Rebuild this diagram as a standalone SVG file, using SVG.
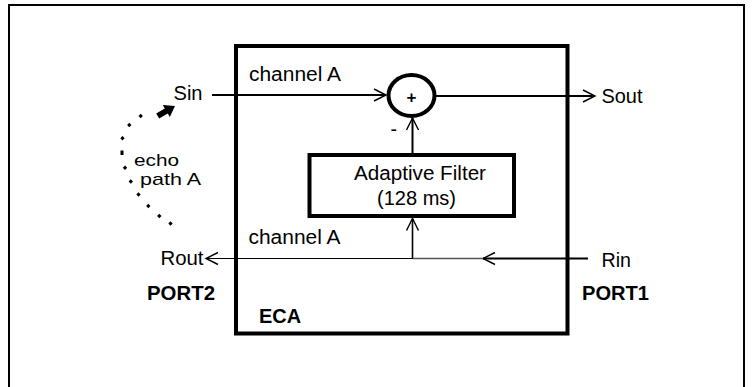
<svg xmlns="http://www.w3.org/2000/svg" width="754" height="387" viewBox="0 0 754 387">
<style>
text{font-family:"Liberation Sans",Arial,sans-serif;font-size:19.5px;fill:#000}
.b{font-weight:bold}
.box{fill:none;stroke:#000;stroke-width:4}
.ln{fill:none;stroke:#000;stroke-width:2}
.thin{fill:none;stroke:#000;stroke-width:1.2}
.echo{font-size:17px}
</style>
<defs>
<marker id="chev" markerUnits="userSpaceOnUse" markerWidth="16" markerHeight="16" viewBox="-14 -8 16 16" refX="0" refY="0" orient="auto">
<path d="M-12,-6 L0,0 L-12,6" fill="none" stroke="#000" stroke-width="1.4"/>
</marker>
<path id="dot" d="M0,-2.2 L2.2,0 L0,2.2 L-2.2,0Z" fill="#000"/>
</defs>
<rect x="9" y="5" width="735" height="400" fill="#fff" stroke="#000" stroke-width="2"/>
<g id="eca">
<rect class="box" x="236" y="46" width="331.5" height="287.5"/>
<text class="b" x="259" y="323" textLength="42" lengthAdjust="spacingAndGlyphs">ECA</text>
</g>
<g id="sum">
<ellipse cx="411.5" cy="95.5" rx="23" ry="20.5" fill="#fff" stroke="#000" stroke-width="4"/>
<text class="b" x="411.5" y="102.5" text-anchor="middle" style="font-size:17px">+</text>
</g>
<g id="filter">
<rect class="box" x="309.5" y="155" width="204.5" height="61"/>
<text x="420" y="180" text-anchor="middle" textLength="132" lengthAdjust="spacingAndGlyphs">Adaptive Filter</text>
<text x="416.5" y="204.5" text-anchor="middle" textLength="79" lengthAdjust="spacingAndGlyphs">(128 ms)</text>
</g>
<g id="connectors">
<line class="ln" x1="212" y1="95" x2="386" y2="95" marker-end="url(#chev)"/>
<line class="ln" x1="436" y1="96" x2="595" y2="96" marker-end="url(#chev)"/>
<line class="ln" x1="412.5" y1="157" x2="412.5" y2="118" marker-end="url(#chev)"/>
<line x1="412.5" y1="258.5" x2="412.5" y2="218.5" stroke="#000" stroke-width="1.6" marker-end="url(#chev)"/>
<line class="ln" x1="588" y1="258.5" x2="483" y2="258.5" marker-end="url(#chev)"/>
<line x1="483" y1="258.5" x2="413" y2="258.5" stroke="#555" stroke-width="1.6"/>
<line class="thin" x1="413" y1="258.5" x2="206" y2="258.5" marker-end="url(#chev)"/>
</g>
<g id="labels">
<text x="173.5" y="100" textLength="29" lengthAdjust="spacingAndGlyphs">Sin</text>
<text x="601.5" y="103" textLength="41" lengthAdjust="spacingAndGlyphs">Sout</text>
<text x="160.5" y="265" textLength="43" lengthAdjust="spacingAndGlyphs">Rout</text>
<text x="601.5" y="266.5" textLength="29.5" lengthAdjust="spacingAndGlyphs">Rin</text>
<text x="249" y="80.5" textLength="92" lengthAdjust="spacingAndGlyphs">channel A</text>
<text x="248.5" y="243.5" textLength="92" lengthAdjust="spacingAndGlyphs">channel A</text>
<text x="390.5" y="136">-</text>
<text class="b" x="147" y="300" textLength="68" lengthAdjust="spacingAndGlyphs">PORT2</text>
<text class="b" x="582" y="300" textLength="67" lengthAdjust="spacingAndGlyphs">PORT1</text>
</g>
<g id="echo">
<use href="#dot" x="170.5" y="223.5"/>
<use href="#dot" x="159.3" y="216"/>
<use href="#dot" x="148.3" y="206"/>
<use href="#dot" x="138.5" y="194.5"/>
<use href="#dot" x="130.8" y="181.5"/>
<use href="#dot" x="125" y="167.7"/>
<rect x="120.5" y="150.5" width="3" height="4.5" fill="#000"/>
<use href="#dot" x="122.5" y="138.3"/>
<use href="#dot" x="129.3" y="125"/>
<use href="#dot" x="140.7" y="116"/>
<polygon points="175,106 162.8,104.9 164.8,108.4 156.2,113.4 159.2,118.6 167.8,113.6 169.8,117.1" fill="#000"/>
<text class="echo" x="134" y="165.5" textLength="45" lengthAdjust="spacingAndGlyphs">echo</text>
<text class="echo" x="140" y="185" textLength="61" lengthAdjust="spacingAndGlyphs">path A</text>
</g>
</svg>
